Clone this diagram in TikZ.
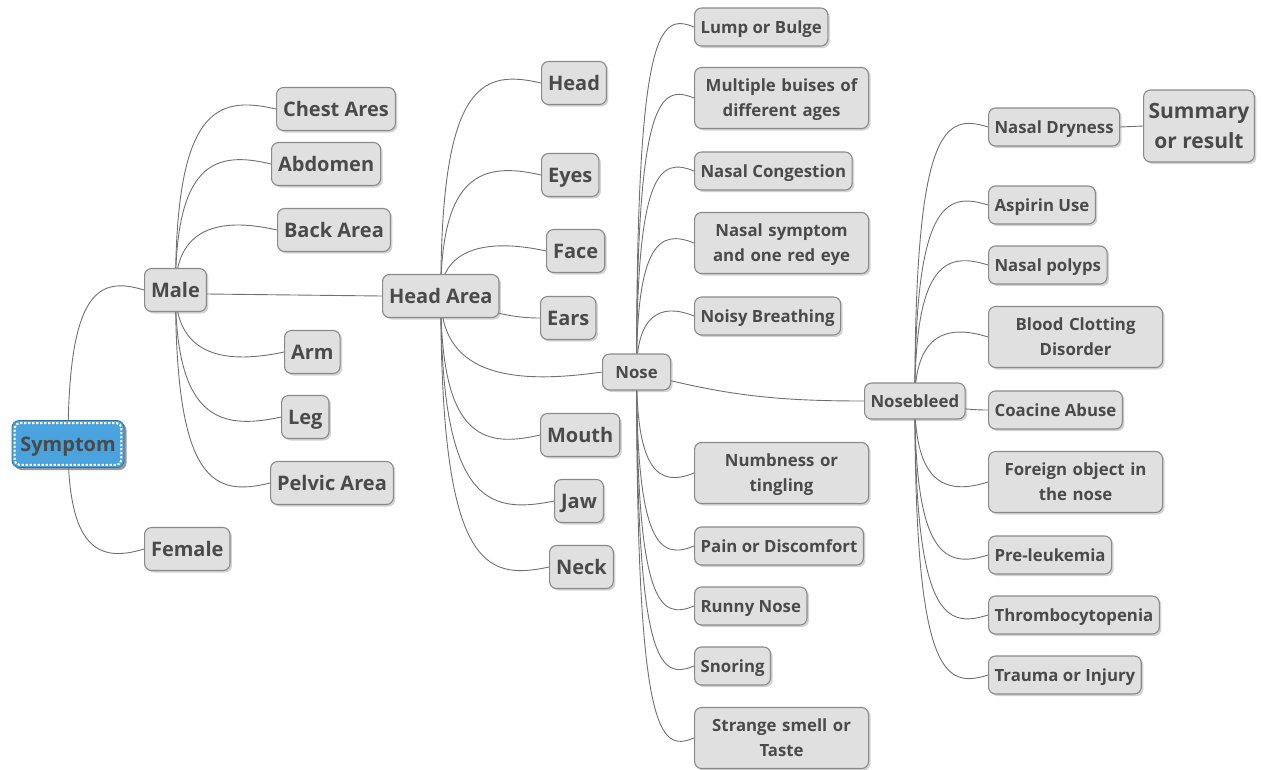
\documentclass[tikz,border=0pt]{standalone}
\usepackage{fontspec}
\setmainfont{Open Sans}
\usetikzlibrary{calc,shadows,backgrounds}

\definecolor{boxfill}{HTML}{E0E0E0}
\definecolor{boxline}{HTML}{8A8A8A}
\definecolor{ink}{HTML}{4A4A4A}
\definecolor{wire}{HTML}{707070}
\definecolor{rootblue}{HTML}{4AA3DD}

\newcommand\bigtxt{\bfseries\fontsize{20}{24}\selectfont}
\newcommand\smalltxt{\bfseries\fontsize{16.8}{25}\selectfont}
% two centred lines with fixed top and bottom struts
\newcommand\twolines[2]{\rule{0pt}{16pt}#1\\#2\rule[-4pt]{0pt}{4pt}}

% branch that climbs from the parent and enters the child from the left
\newcommand\linkup[2]{\draw[link] (#1.center) .. controls (#1.center |- #2.west) and ($(#1.center |- #2.west)!0.4!(#2.west)+(0,14)$) .. (#2.west);}
% branch that drops from the parent and enters the child from the left
\newcommand\linkdn[2]{\draw[link] (#1.center) .. controls (#1.center |- #2.west) and ($(#1.center |- #2.west)!0.4!(#2.west)+(0,-14)$) .. (#2.west);}

\tikzset{
  x=1pt, y=1pt,
  box/.style={rounded corners=7pt, fill=boxfill, draw=boxline, line width=1.1pt,
    text=ink, anchor=west,
    drop shadow={shadow xshift=2pt, shadow yshift=-2pt, opacity=0.35}},
  big/.style={box, font=\bigtxt, minimum height=43pt, inner xsep=6.5pt,
    text height=18pt, text depth=4pt},
  small/.style={box, font=\smalltxt, minimum height=38pt, inner xsep=6pt,
    text height=15pt, text depth=3pt},
  twoline/.style={box, font=\smalltxt, text width=162pt, align=center,
    minimum height=61pt, inner xsep=6pt},
  link/.style={draw=wire, line width=0.9pt},
}

\begin{document}
\begin{tikzpicture}
\useasboundingbox (0,0) rectangle (1262,-769);

% root
\node[rounded corners=7pt, fill=rootblue, draw=rootblue!70!black, line width=0.8pt,
  text=ink, font=\bigtxt, text height=18pt, text depth=4pt,
  minimum width=112pt, minimum height=47pt,
  drop shadow={shadow xshift=2.5pt, shadow yshift=-2.5pt, opacity=0.8}]
  (symptom) at (68,-444) {Symptom};
\draw[white, line width=2pt, dash pattern=on 2.2pt off 1.8pt, rounded corners=5pt]
  ([shift={(3,3)}]symptom.south west) rectangle ([shift={(-3,-3)}]symptom.north east);

% first level
\node[big] (male) at (144,-290) {Male};
\node[big] (female) at (144,-549) {Female};

% body regions
\node[big] (chest) at (276,-109) {Chest Ares};
\node[big] (abdomen) at (271,-164) {Abdomen};
\node[big] (back) at (277,-230) {Back Area};
\node[big] (arm) at (284,-352) {Arm};
\node[big] (leg) at (281,-417) {Leg};
\node[big] (pelvic) at (270,-483) {Pelvic Area};
\node[big] (headarea) at (382,-296) {Head Area};

% head area parts
\node[big] (head) at (541,-83) {Head};
\node[big] (eyes) at (541,-175) {Eyes};
\node[big] (face) at (546,-251) {Face};
\node[big] (ears) at (540,-318) {Ears};
\node[big] (mouth) at (540,-435) {Mouth};
\node[big] (jaw) at (554,-501) {Jaw};
\node[big] (neck) at (549,-567) {Neck};
\node[small, minimum height=36pt, minimum width=68pt] (nose) at (602,-372) {Nose};

% nose symptoms
\node[small] (lump) at (694,-27) {Lump or Bulge};
\node[twoline] (bruises) at (694,-98) {\twolines{Multiple buises of}{different ages}};
\node[small] (congestion) at (694,-171) {Nasal Congestion};
\node[twoline] (redeye) at (694,-243) {\twolines{Nasal symptom}{and one red eye}};
\node[small] (noisy) at (694,-316) {Noisy Breathing};
\node[twoline] (numb) at (694,-473) {\twolines{Numbness or}{tingling}};
\node[small] (pain) at (694,-546) {Pain or Discomfort};
\node[small] (runny) at (694,-606) {Runny Nose};
\node[small] (snoring) at (694,-666) {Snoring};
\node[twoline] (smell) at (694,-738) {\twolines{Strange smell or}{Taste}};
\node[small, minimum height=36pt, minimum width=100pt] (bleed) at (864,-401) {Nosebleed};

% nosebleed causes
\node[small] (dry) at (988,-127) {Nasal Dryness};
\node[box, font=\bfseries\fontsize{21}{30}\selectfont, align=center,
  minimum width=107pt, minimum height=72pt, inner xsep=5pt]
  (summary) at (1143,-126) {\rule{0pt}{18pt}Summary\\or result\rule[-3pt]{0pt}{3pt}};
\node[small] (aspirin) at (988,-205) {Aspirin Use};
\node[small] (polyps) at (988,-265) {Nasal polyps};
\node[twoline] (clotting) at (988,-337) {\twolines{Blood Clotting}{Disorder}};
\node[small] (cocaine) at (988,-410) {Coacine Abuse};
\node[twoline] (foreign) at (988,-482) {\twolines{Foreign object in}{the nose}};
\node[small] (leuk) at (988,-555) {Pre-leukemia};
\node[small] (thromb) at (988,-615) {Thrombocytopenia};
\node[small] (trauma) at (988,-675) {Trauma or Injury};

\begin{pgfonlayer}{background}
  \linkup{symptom}{male}
  \linkdn{symptom}{female}

  \linkup{male}{chest}
  \linkup{male}{abdomen}
  \linkup{male}{back}
  \linkdn{male}{arm}
  \linkdn{male}{leg}
  \linkdn{male}{pelvic}
  \draw[link] ([yshift=-4pt]male.east) -- (headarea.west);

  \linkup{headarea}{head}
  \linkup{headarea}{eyes}
  \linkup{headarea}{face}
  \draw[link] (headarea.center) to[out=-15,in=180] (ears.west);
  \linkdn{headarea}{nose}
  \linkdn{headarea}{mouth}
  \linkdn{headarea}{jaw}
  \linkdn{headarea}{neck}

  \linkup{nose}{lump}
  \linkup{nose}{bruises}
  \linkup{nose}{congestion}
  \linkup{nose}{redeye}
  \linkup{nose}{noisy}
  \linkdn{nose}{numb}
  \linkdn{nose}{pain}
  \linkdn{nose}{runny}
  \linkdn{nose}{snoring}
  \linkdn{nose}{smell}
  \draw[link] (nose.center) to[out=-15,in=180] (bleed.west);

  \linkup{bleed}{dry}
  \linkup{bleed}{aspirin}
  \linkup{bleed}{polyps}
  \linkup{bleed}{clotting}
  \draw[link] (bleed.center) to[out=-8,in=180] (cocaine.west);
  \linkdn{bleed}{foreign}
  \linkdn{bleed}{leuk}
  \linkdn{bleed}{thromb}
  \linkdn{bleed}{trauma}

  \draw[link] (dry.east) -- (summary.west);
\end{pgfonlayer}
\end{tikzpicture}
\end{document}
